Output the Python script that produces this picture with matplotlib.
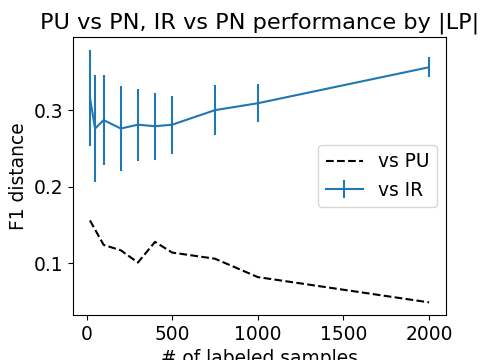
import matplotlib
matplotlib.use("Agg")
import matplotlib.pyplot as plt

plt.rcParams['font.size'] = 13.4

x_ir = [20, 50, 100, 200, 300, 400, 500, 750, 1000, 2000]
ir_mean = [0.316, 0.276, 0.287, 0.276, 0.281, 0.279, 0.281, 0.300, 0.309, 0.356]
ir_err = [0.063, 0.070, 0.059, 0.055, 0.047, 0.044, 0.038, 0.033, 0.025, 0.013]

x_pu = [20, 100, 200, 300, 400, 500, 750, 1000, 2000]
pu_mean = [0.156, 0.124, 0.117, 0.101, 0.128, 0.114, 0.106, 0.082, 0.049]

fig = plt.figure(figsize=(4.81, 3.60), dpi=100)
ax = fig.add_axes([73/481, (360-315)/360, (446-73)/481, (315-37)/360])
ax.plot(x_pu, pu_mean, 'k--', label='vs PU')
ax.errorbar(x_ir, ir_mean, yerr=ir_err, color='#1f77b4', label='vs IR')
ax.set_title('PU vs PN, IR vs PN performance by |LP|', fontsize=16.1)
ax.set_xlabel('# of labeled samples')
ax.set_ylabel('F1 distance')
ax.set_xticks([0, 500, 1000, 1500, 2000])
ax.set_yticks([0.1, 0.2, 0.3])
ax.legend(loc='center right')
fig.savefig('out.png', dpi=100)
